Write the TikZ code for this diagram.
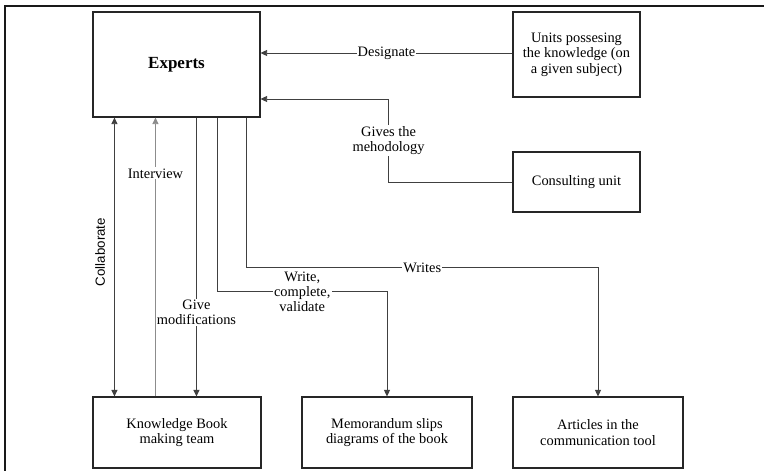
\documentclass[tikz,border=0pt]{standalone}
\usepackage{fontspec}
\setmainfont{Liberation Serif}
\newfontfamily\sansf{Liberation Sans}
\usetikzlibrary{arrows.meta}
\tikzset{
  box/.style={draw=black!85, line width=1.1pt, align=center, inner sep=0pt,
    font=\fontsize{14.4}{15.5}\selectfont},
  conn/.style={draw=black!75, line width=0.8pt},
  arr/.style={conn, -{Triangle[width=6pt,length=6.5pt]}},
  dblarr/.style={conn, {Triangle[width=6pt,length=6.5pt]}-{Triangle[width=6pt,length=6.5pt]}},
  lbl/.style={fill=white, inner sep=1.2pt, align=center, font=\fontsize{14.4}{15}\selectfont},
  frame/.style={draw=black!90, line width=1.6pt}
}
\begin{document}
\begin{tikzpicture}[x=1pt,y=-1pt]
\useasboundingbox (0,0) rectangle (764,471);
% outer frame (cropped)
\coordinate (ftl) at (5,6);
\coordinate (ftr) at (764,6);
\coordinate (fbl) at (5,471);
\draw[frame] (fbl) -- (ftl) -- (ftr);
% boxes
\node[box, minimum width=167pt, minimum height=105pt, font=\fontsize{17}{19}\selectfont\bfseries] (experts) at (176.5,64.5) {Experts};
\node[box, minimum width=127pt, minimum height=85pt] (units) at (576.5,54.5) {Units possesing\\the knowledge (on\\a given subject)};
\node[box, minimum width=127pt, minimum height=60pt] (consult) at (576.5,182) {Consulting unit};
\node[box, minimum width=168pt, minimum height=71pt] (kb) at (177,432.5) {Knowledge Book\\making team};
\node[box, minimum width=170pt, minimum height=71pt] (memo) at (387,432.5) {Memorandum slips\\diagrams of the book};
\node[box, minimum width=170pt, minimum height=71pt] (art) at (598,432.5) {Articles in the\\communication tool};
% Designate
\draw[arr] (units.west |- 0,53) -- node[lbl, pos=0.5] {Designate} (experts.east |- 0,53);
% Gives the methodology
\draw[arr] (consult.west) -| node[lbl, pos=0.75] {Gives the\\mehodology} ([xshift=128pt,yshift=-34.5pt]experts.east) -- ([yshift=-34.5pt]experts.east);
% Collaborate
\draw[dblarr] ([xshift=22pt]experts.south west) -- ([xshift=22pt]kb.north west);
\node[font=\sansf\fontsize{13.3}{15}\selectfont, rotate=90] (collab) at (100,252) {Collaborate};
% Interview
\draw[arr, draw=black!45] ([xshift=63pt]kb.north west) -- node[lbl, pos=0.8] {Interview} ([xshift=63pt]experts.south west);
% Give modifications
\draw[arr] ([xshift=104pt]experts.south west) -- node[lbl, pos=0.70] {Give\\modifications} ([xshift=104pt]kb.north west);
% Write, complete, validate
\draw[arr] ([xshift=125pt]experts.south west) |- node[lbl, pos=0.75] {Write,\\complete,\\validate} ([yshift=105pt]memo.north) -- (memo.north);
% Writes
\draw[arr] ([xshift=154pt]experts.south west) |- node[lbl, pos=0.75] {Writes} ([yshift=129pt]art.north) -- (art.north);
\end{tikzpicture}
\end{document}
